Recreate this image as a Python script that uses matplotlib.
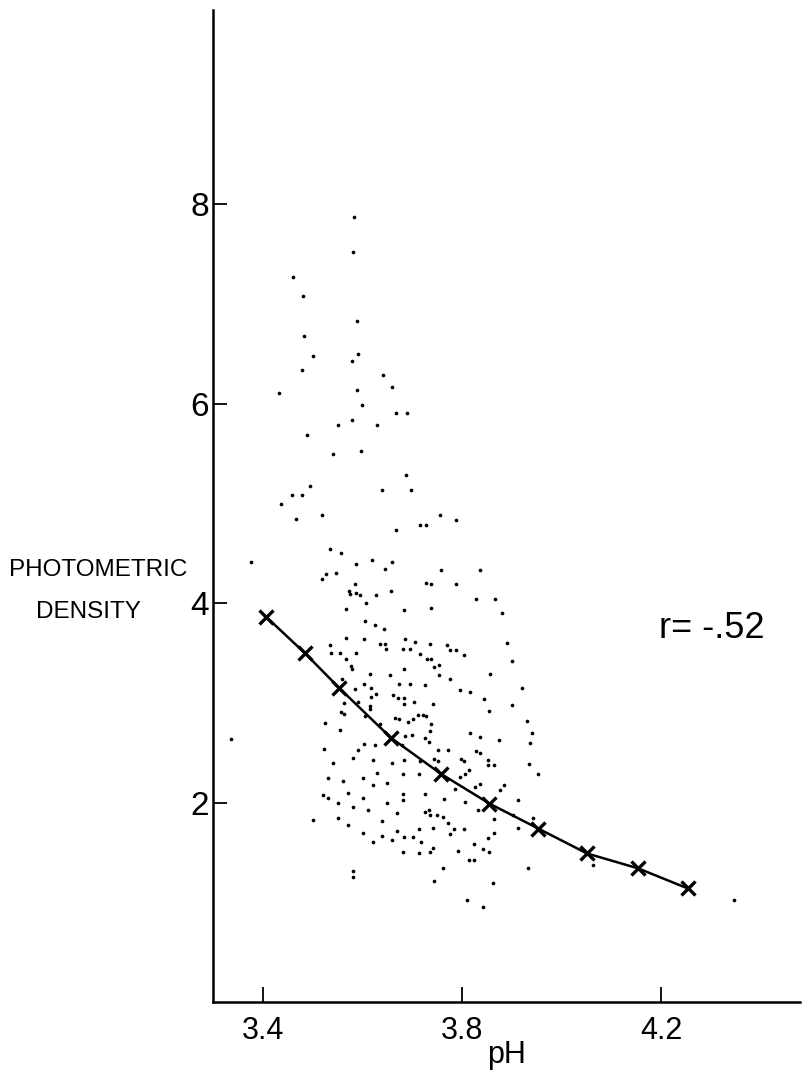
import matplotlib
matplotlib.use("Agg")
import matplotlib.pyplot as plt

FONT = ['Liberation Sans', 'DejaVu Sans']
plt.rcParams['font.family'] = FONT

# scattered observations (pH, photometric density)
ph = [
    3.583, 3.581, 3.480, 3.589, 3.482, 3.500, 3.478, 3.591, 3.579, 3.641, 3.659, 3.589,
    3.460, 3.432,
    3.598, 3.667, 3.689, 3.550, 3.579, 3.629, 3.489, 3.540, 3.596, 3.687, 3.639, 3.697,
    3.494, 3.458, 3.478, 3.436, 3.467, 3.518, 3.756, 3.788, 3.716, 3.728, 3.667, 3.535,
    3.557, 3.376, 3.586, 3.618, 3.659, 3.646, 3.527, 3.546, 3.518, 3.757, 3.836, 3.728,
    3.738, 3.787, 3.584, 3.573, 3.575, 3.587, 3.594, 3.627, 3.657, 3.828, 3.866,
    3.606, 3.566, 3.683, 3.738, 3.604, 3.625, 3.643, 3.566, 3.603, 3.685, 3.706, 3.636,
    3.646, 3.647, 3.682, 3.695, 3.736, 3.769, 3.776, 3.787, 3.804, 3.534, 3.537, 3.554,
    3.587, 3.566, 3.577, 3.579, 3.715, 3.729, 3.738, 3.744, 3.754, 3.753, 3.775, 3.683,
    3.615, 3.656, 3.558, 3.674, 3.696, 3.726, 3.856, 3.796, 3.815, 3.584, 3.603, 3.616,
    3.627, 3.617, 3.662, 3.671, 3.683, 3.683, 3.704, 3.742, 3.845, 3.854, 3.563, 3.590,
    3.615, 3.615, 3.557, 3.563, 3.605, 3.665, 3.674, 3.711, 3.721, 3.702, 3.728, 3.737,
    3.692, 3.525, 3.555, 3.635, 3.685, 3.699, 3.736, 3.726, 3.734, 3.815, 3.835, 3.875,
    3.335, 3.602, 3.625, 3.679, 3.752, 3.772, 3.828, 3.836, 3.523, 3.591,
    3.936, 3.684, 3.716, 3.743, 3.751, 3.798, 3.803, 3.853, 3.853, 3.864, 3.935, 3.682,
    3.714, 3.813, 3.806, 3.796, 3.952, 3.682, 3.682, 3.726, 3.786, 3.826, 3.837, 3.876,
    3.884, 3.764, 3.805, 3.913, 3.832, 3.726, 3.734, 3.736, 3.749, 3.762, 3.772, 3.864,
    3.902, 3.943, 3.714, 3.742, 3.783, 3.803, 3.775, 3.865, 3.913, 3.684, 3.701, 3.718,
    3.742, 3.853, 3.824, 3.682, 3.714, 3.736, 3.791, 3.843, 3.854, 3.813, 3.823, 4.063,
    3.762, 3.932, 3.744, 3.863, 3.809, 3.842, 4.347,
    3.500, 3.520, 3.530, 3.550, 3.570, 3.580, 3.600, 3.610, 3.620, 3.640, 3.550, 3.580,
    3.580, 3.560, 3.600, 3.630, 3.650, 3.660, 3.640, 3.620, 3.660, 3.670, 3.600, 3.570,
    3.540, 3.580, 3.620, 3.650, 3.670, 3.530,
    3.880, 3.890, 3.900, 3.920, 3.900, 3.930, 3.940,
]
density = [
    7.87, 7.52, 7.08, 6.83, 6.68, 6.48, 6.34, 6.50, 6.43, 6.29, 6.17, 6.14,
    7.27, 6.11,
    5.99, 5.91, 5.91, 5.79, 5.84, 5.79, 5.69, 5.50, 5.53, 5.29, 5.14, 5.14,
    5.18, 5.09, 5.09, 5.00, 4.84, 4.88, 4.88, 4.83, 4.78, 4.78, 4.73, 4.54,
    4.50, 4.41, 4.39, 4.43, 4.41, 4.34, 4.29, 4.30, 4.24, 4.33, 4.33, 4.20,
    4.19, 4.19, 4.19, 4.12, 4.09, 4.10, 4.08, 4.08, 4.12, 4.04, 4.04,
    4.00, 3.94, 3.93, 3.95, 3.82, 3.78, 3.74, 3.65, 3.64, 3.64, 3.61, 3.59,
    3.59, 3.54, 3.54, 3.54, 3.59, 3.58, 3.53, 3.53, 3.48, 3.58, 3.50, 3.50,
    3.50, 3.44, 3.37, 3.34, 3.49, 3.44, 3.44, 3.36, 3.38, 3.28, 3.24, 3.34,
    3.29, 3.28, 3.24, 3.19, 3.19, 3.18, 3.29, 3.13, 3.11, 3.14, 3.19, 3.15,
    3.09, 3.06, 3.08, 3.05, 3.05, 2.99, 3.01, 2.99, 3.04, 2.92, 3.00, 3.01,
    2.97, 2.94, 2.91, 2.89, 2.87, 2.85, 2.84, 2.88, 2.88, 2.84, 2.87, 2.79,
    2.81, 2.80, 2.73, 2.79, 2.67, 2.68, 2.72, 2.65, 2.61, 2.70, 2.66, 2.63,
    2.64, 2.59, 2.58, 2.58, 2.53, 2.53, 2.52, 2.50, 2.54, 2.53,
    2.60, 2.43, 2.42, 2.44, 2.42, 2.44, 2.42, 2.43, 2.38, 2.38, 2.39, 2.29,
    2.29, 2.33, 2.29, 2.26, 2.29, 2.09, 2.03, 2.09, 2.14, 2.16, 2.19, 2.13,
    2.18, 2.04, 2.01, 2.03, 1.93, 1.91, 1.93, 1.88, 1.88, 1.86, 1.80, 1.84,
    1.88, 1.85, 1.74, 1.75, 1.74, 1.74, 1.69, 1.70, 1.75, 1.66, 1.65, 1.60,
    1.54, 1.64, 1.58, 1.50, 1.49, 1.50, 1.51, 1.53, 1.50, 1.42, 1.42, 1.37,
    1.34, 1.34, 1.21, 1.19, 1.02, 0.95, 1.02,
    1.83, 2.08, 2.05, 2.00, 2.10, 1.96, 2.05, 1.93, 2.18, 1.82, 1.85, 1.31,
    1.25, 2.22, 2.25, 2.30, 2.20, 2.40, 1.67, 1.60, 1.62, 1.72, 1.70, 1.78,
    2.40, 2.45, 2.43, 2.00, 1.90, 2.25,
    3.90, 3.60, 3.42, 3.15, 2.98, 2.82, 2.70,
]

# fitted regression curve, marked with crosses
fit_ph = [3.407, 3.484, 3.553, 3.657, 3.757, 3.855, 3.953, 4.051, 4.154, 4.253]
fit_density = [3.86, 3.50, 3.15, 2.65, 2.29, 1.99, 1.74, 1.49, 1.34, 1.14]

x_ticks = [3.4, 3.8, 4.2]
y_ticks = [2, 4, 6, 8]
r_label = 'r= -.52'

fig = plt.figure(figsize=(8.08, 10.79), dpi=100)
ax = fig.add_axes([213 / 808, 77 / 1079, 587 / 808, 992 / 1079])

ax.scatter(ph, density, s=7, color='black', linewidths=0)
ax.plot(fit_ph, fit_density, color='black', lw=1.8, marker='x',
        markersize=10, markeredgewidth=2.4)

ax.set_xlim(3.2995, 4.479)
ax.set_ylim(0, 9.95)

for side in ['top', 'right']:
    ax.spines[side].set_visible(False)
for side in ['left', 'bottom']:
    ax.spines[side].set_linewidth(1.8)

ax.set_xticks(x_ticks)
ax.set_xticklabels(['3.4', '3.8', '4.2'])
ax.set_yticks(y_ticks)
ax.set_yticklabels([str(v) for v in y_ticks])
ax.tick_params(axis='x', direction='in', length=11, width=1.3, pad=10, labelsize=22)
ax.tick_params(axis='y', direction='in', length=10, width=1.3, pad=3, labelsize=24)

ax.set_xlabel('pH', fontsize=22, labelpad=-4)

fig.text(98 / 808, 1 - 570 / 1079, 'PHOTOMETRIC', fontsize=17.5, ha='center', va='center')
fig.text(88 / 808, 1 - 612 / 1079, 'DENSITY', fontsize=17.5, ha='center', va='center')
ax.text(4.302, 3.75, r_label, fontsize=26, ha='center', va='center')

fig.savefig('out.png', dpi=100)
